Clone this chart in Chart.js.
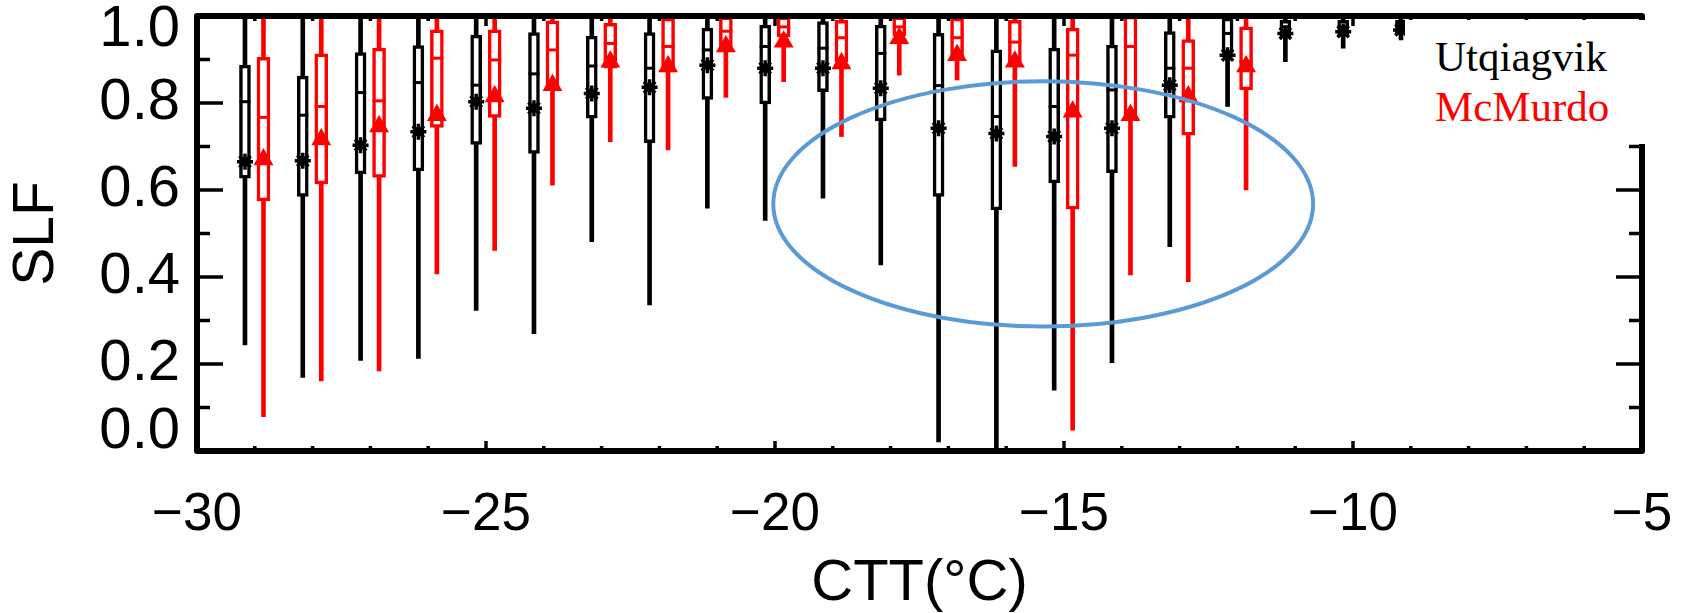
<!DOCTYPE html>
<html>
<head>
<meta charset="utf-8">
<title>SLF vs CTT</title>
<script src="https://cdn.jsdelivr.net/npm/chart.js@4.4.1/dist/chart.umd.min.js"></script>
<style>
    body { margin: 0; background: #fff; }
    #wrap { position: relative; width: 1685px; height: 613px; }
    #legend {
        position: absolute; left: 1405px; top: 20px; width: 241px; height: 124px;
        background: #fff; box-sizing: border-box; padding: 12px 0 0 30px;
        font-family: 'Liberation Serif', 'Times New Roman', serif; font-size: 43px; line-height: 50px;
    }
</style>
</head>
<body>
<div id="wrap">
    <canvas id="chart"></canvas>
    <div id="legend">
        <div style="color:#000">Utqiagvik</div>
        <div style="color:#ff0000">McMurdo</div>
    </div>
</div>
<script>
// Utqiagvik (black) - CTT bins and box statistics of SLF
const utqBins   = [-29, -28, -27, -26, -25, -24, -23, -22, -21, -20, -19, -18, -17, -16, -15, -14, -13, -12, -11, -10, -9];
const utqMin    = [0.244, 0.169, 0.208, 0.213, 0.323, 0.270, 0.481, 0.336, 0.558, 0.530, 0.581, 0.428, 0.021, 0.000, 0.140, 0.203, 0.470, 0.792, 0.895, 0.926, 0.945];
const utqQ1     = [0.627, 0.585, 0.637, 0.644, 0.705, 0.684, 0.765, 0.709, 0.808, 0.798, 0.826, 0.759, 0.585, 0.554, 0.616, 0.640, 0.765, 0.914, 0.950, 0.955, 0.960];
const utqMedian = [0.803, 0.772, 0.824, 0.847, 0.841, 0.867, 0.885, 0.880, 0.922, 0.930, 0.926, 0.914, 0.840, 0.769, 0.792, 0.830, 0.880, 0.960, 0.975, 0.975, 0.980];
const utqQ3     = [0.887, 0.862, 0.916, 0.932, 0.956, 0.962, 0.954, 0.962, 0.972, 0.979, 0.987, 0.979, 0.960, 0.922, 0.926, 0.933, 0.964, 0.995, 0.990, 0.990, 0.990];
const utqMax    = [1, 1, 1, 1, 1, 1, 1, 1, 1, 1, 1, 1, 1, 1, 1, 1, 1, 1, 1, 1, 1];
const utqMean   = [0.665, 0.667, 0.703, 0.734, 0.803, 0.788, 0.822, 0.836, 0.887, 0.880, 0.880, 0.834, 0.742, 0.730, 0.723, 0.742, 0.841, 0.910, 0.960, 0.964, 0.968];

// McMurdo (red)
const mcmBins   = [-29, -28, -27, -26, -25, -24, -23, -22, -21, -20, -19, -18, -17, -16, -15, -14, -13, -12];
const mcmMin    = [0.079, 0.161, 0.184, 0.407, 0.461, 0.611, 0.711, 0.692, 0.813, 0.849, 0.723, 0.864, 0.853, 0.654, 0.048, 0.405, 0.389, 0.600];
const mcmQ1     = [0.575, 0.614, 0.629, 0.744, 0.767, 0.836, 0.880, 0.876, 0.930, 0.952, 0.895, 0.955, 0.900, 0.890, 0.556, 0.765, 0.726, 0.830];
const mcmMedian = [0.767, 0.792, 0.805, 0.903, 0.899, 0.922, 0.937, 0.930, 0.965, 0.975, 0.950, 0.975, 0.950, 0.940, 0.910, 0.930, 0.880, 0.895];
const mcmQ3     = [0.905, 0.913, 0.926, 0.968, 0.968, 0.989, 0.983, 0.995, 0.998, 0.998, 0.990, 0.998, 0.995, 0.990, 0.972, 1.000, 0.946, 0.975];
const mcmMax    = [1, 1, 1, 1, 1, 1, 1, 1, 1, 1, 1, 1, 1, 1, 1, 1, 1, 1];
const mcmMean   = [0.670, 0.716, 0.746, 0.772, 0.815, 0.841, 0.895, 0.884, 0.930, 0.941, 0.891, 0.949, 0.910, 0.895, 0.780, 0.772, 0.815, 0.884];

const xTicks = [-30, -25, -20, -15, -10, -5];
const yTicks = [0, 0.2, 0.4, 0.6, 0.8, 1.0];

// highlighted region (data units)
const ellipseCenter = [-15.36, 0.568];
const ellipseRadius = [4.67, 0.282];

const FONT = "'Liberation Sans', Arial, Helvetica, sans-serif";

function boxSets(bins, shift, mins, q1, med, q3, maxs, means, color, boxW, lineW, meanStyle, meanR) {
    const xs = bins.map(b => b + shift);
    return [
        {
            type: 'bar', order: 5, grouped: false,
            data: xs.map((x, i) => ({ x: x, y: [mins[i], maxs[i]] })),
            backgroundColor: color, borderWidth: 0, barThickness: lineW
        },
        {
            type: 'bar', order: 4, grouped: false,
            data: xs.map((x, i) => ({ x: x, y: [q1[i], q3[i]] })),
            backgroundColor: '#fff', borderColor: color, borderWidth: 3.5,
            borderSkipped: false, barThickness: boxW
        },
        {
            type: 'scatter', order: 3,
            data: xs.map((x, i) => ({ x: x, y: med[i] })),
            pointStyle: 'line', pointRadius: boxW / 2, borderColor: color, borderWidth: 3
        },
        {
            type: 'scatter', order: 2,
            data: xs.map((x, i) => ({ x: x, y: means[i] })),
            pointStyle: meanStyle, pointRadius: meanR, borderColor: color,
            backgroundColor: color, borderWidth: 3.5
        }
    ];
}

const framePlugin = {
    id: 'frame',
    afterDatasetsDraw(chart) {
        const { ctx, chartArea: a, scales: { x, y } } = chart;
        ctx.save();
        ctx.strokeStyle = '#000';
        ctx.lineCap = 'butt';

        // inward ticks
        ctx.lineWidth = 3.5;
        ctx.beginPath();
        for (let k = 0; k <= 10; k++) {
            const py = y.getPixelForValue(k / 10);
            const len = k % 2 === 0 ? 26 : 13;
            ctx.moveTo(a.left, py); ctx.lineTo(a.left + len, py);
            ctx.moveTo(a.right, py); ctx.lineTo(a.right - len, py);
        }
        for (let t = -30; t <= -5; t++) {
            const px = x.getPixelForValue(t);
            const len = t % 5 === 0 ? 10 : 5;
            ctx.moveTo(px, a.bottom); ctx.lineTo(px, a.bottom - len);
            ctx.moveTo(px, a.top); ctx.lineTo(px, a.top + len);
        }
        ctx.stroke();

        // box frame
        ctx.lineWidth = 6;
        ctx.lineJoin = 'round';
        ctx.strokeRect(a.left, a.top, a.right - a.left, a.bottom - a.top);

        // y tick labels, end labels kept inside the frame height
        ctx.fillStyle = '#000';
        ctx.font = '58px ' + FONT;
        ctx.textAlign = 'right';
        ctx.textBaseline = 'middle';
        yTicks.forEach(v => {
            let py = y.getPixelForValue(v);
            py = Math.min(Math.max(py, a.top + 14), a.bottom - 19);
            ctx.fillText(v.toFixed(1), a.left - 17, py);
        });

        // blue ellipse
        const cx = x.getPixelForValue(ellipseCenter[0]);
        const cy = y.getPixelForValue(ellipseCenter[1]);
        const rx = x.getPixelForValue(ellipseCenter[0] + ellipseRadius[0]) - cx;
        const ry = cy - y.getPixelForValue(ellipseCenter[1] + ellipseRadius[1]);
        ctx.beginPath();
        ctx.ellipse(cx, cy, rx, ry, 0, 0, Math.PI * 2);
        ctx.strokeStyle = '#5b9bd5';
        ctx.lineWidth = 4;
        ctx.stroke();
        ctx.restore();
    }
};

const datasets = [].concat(
    boxSets(utqBins, -0.17, utqMin, utqQ1, utqMedian, utqQ3, utqMax, utqMean, '#000000', 11, 4, 'star', 8),
    boxSets(mcmBins, 0.15, mcmMin, mcmQ1, mcmMedian, mcmQ3, mcmMax, mcmMean, '#ff0000', 13, 4, 'triangle', 8)
);

new Chart(document.getElementById('chart'), {
    type: 'bar',
    data: { datasets: datasets },
    options: {
        responsive: true,
        maintainAspectRatio: false,
        animation: false,
        layout: { padding: { top: 16, right: 43, bottom: 0, left: 0 } },
        plugins: { legend: { display: false }, tooltip: { enabled: false } },
        scales: {
            x: {
                type: 'linear', min: -30, max: -5, offset: false,
                afterBuildTicks: s => { s.ticks = xTicks.map(v => ({ value: v })); },
                afterFit: s => { s.height = 162; s.paddingLeft = 0; s.paddingRight = 0; },
                grid: { display: false, drawTicks: false },
                border: { display: false },
                ticks: {
                    color: '#000', padding: 33, maxRotation: 0, autoSkip: false,
                    font: { family: FONT, size: 53 },
                    callback: v => (v < 0 ? '\u2212' + Math.abs(v) : String(v))
                },
                title: {
                    display: true, text: 'CTT(°C)', color: '#000',
                    font: { family: FONT, size: 58, lineHeight: 1 },
                    padding: { top: 0, bottom: 0 }
                }
            },
            y: {
                min: 0, max: 1,
                afterFit: s => { s.width = 197; s.paddingTop = 0; s.paddingBottom = 0; },
                grid: { display: false, drawTicks: false },
                border: { display: false },
                ticks: { display: false, stepSize: 0.2 },
                title: {
                    display: true, text: 'SLF', color: '#000',
                    font: { family: FONT, size: 57, lineHeight: 1 },
                    padding: { top: 9, bottom: 0 }
                }
            }
        }
    },
    plugins: [framePlugin]
});
</script>
</body>
</html>
